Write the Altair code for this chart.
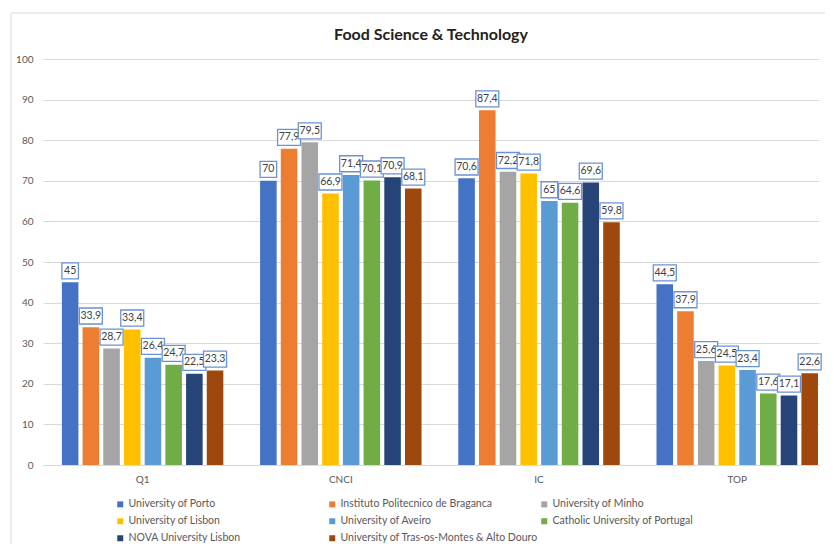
import altair as alt
import pandas as pd

groups = ["Q1", "CNCI", "IC", "TOP"]
universities = [
    "University of Porto",
    "Instituto Politecnico de Braganca",
    "University of Minho",
    "University of Lisbon",
    "University of Aveiro",
    "Catholic University of Portugal",
    "NOVA University Lisbon",
    "University of Tras-os-Montes & Alto Douro",
]
colors = ["#4472C4", "#ED7D31", "#A5A5A5", "#FFC000", "#5B9BD5", "#70AD47", "#264478", "#9E480E"]

porto = [45, 70, 70.6, 44.5]
braganca = [33.9, 77.9, 87.4, 37.9]
minho = [28.7, 79.5, 72.2, 25.6]
lisbon = [33.4, 66.9, 71.8, 24.5]
aveiro = [26.4, 71.4, 65, 23.4]
catholic = [24.7, 70.1, 64.6, 17.6]
nova = [22.5, 70.9, 69.6, 17.1]
utad = [23.3, 68.1, 59.8, 22.6]
series = [porto, braganca, minho, lisbon, aveiro, catholic, nova, utad]

rows = []
for u, vals in zip(universities, series):
    for g, v in zip(groups, vals):
        lab = f"{v:g}".replace(".", ",")
        rows.append({"group": g, "uni": u, "value": v, "label": lab,
                     "kind": "long" if "," in lab else "short"})
df = pd.DataFrame(rows)

FONT = "Lato"

x_enc = alt.X("group:N", sort=groups,
              scale=alt.Scale(domain=groups, paddingInner=0.175, paddingOuter=0.045, align=1),
              axis=alt.Axis(title=None, labelAngle=0, ticks=False, domain=True,
                            domainColor="#D9D9D9", labelFontSize=10, labelColor="#595959",
                            labelPadding=9, labelFont=FONT, grid=False))
xo_enc = alt.XOffset("uni:N", sort=universities,
                     scale=alt.Scale(domain=universities, paddingInner=0.2, paddingOuter=0.05))
y_scale = alt.Scale(domain=[0, 100], nice=False)
y_axis = alt.Axis(values=list(range(0, 101, 10)), title=None, ticks=False, domain=False,
                  gridColor="#D9D9D9", labelColor="#595959", labelFontSize=10,
                  labelPadding=10, labelFont=FONT)

base = alt.Chart(df)

bars = base.mark_bar().encode(
    x=x_enc,
    xOffset=xo_enc,
    y=alt.Y("value:Q", scale=y_scale, axis=y_axis),
    color=alt.Color("uni:N", sort=universities,
                    scale=alt.Scale(domain=universities, range=colors),
                    legend=alt.Legend(orient="none", legendX=72, legendY=440,
                                      direction="horizontal", columns=3, gridAlign="all",
                                      symbolType="square", symbolSize=36, symbolStrokeWidth=0,
                                      labelFontSize=10.5, labelFont=FONT, labelColor="#595959",
                                      rowPadding=6, columnPadding=0, title=None,
                                      labelLimit=0, labelOffset=3, padding=0)),
)

layers = [bars]
box_paths = ["M-0.69,-0.667H0.69V0.667H-0.69Z", "M-0.958,-0.667H0.958V0.667H-0.958Z"]
for u in universities:
    sub = base.transform_filter(alt.datum.uni == u).transform_calculate(
        label_y="datum.value + 2.8")
    box = sub.mark_point(filled=True, fill="white", stroke="#6A93D4", strokeWidth=1.3,
                         opacity=1, size=576).encode(
        x=x_enc,
        xOffset=xo_enc,
        y=alt.Y("label_y:Q", scale=y_scale, axis=y_axis),
        shape=alt.Shape("kind:N", scale=alt.Scale(domain=["short", "long"], range=box_paths),
                        legend=None),
    )
    txt = sub.mark_text(font=FONT, fontSize=10.5, color="#404040", baseline="middle").encode(
        x=x_enc,
        xOffset=xo_enc,
        y=alt.Y("label_y:Q", scale=y_scale, axis=y_axis),
        text="label:N",
    )
    layers += [box, txt]

frame_data = alt.Data(values=[{"a": 1}])
frame_left = alt.Chart(frame_data).mark_rule(color="#D9D9D9", strokeWidth=1).encode(
    x=alt.value(-32), y=alt.value(-46), y2=alt.value(485))
frame_top = alt.Chart(frame_data).mark_rule(color="#D9D9D9", strokeWidth=1).encode(
    x=alt.value(-32), x2=alt.value(782), y=alt.value(-46))
layers += [frame_left, frame_top]

chart = alt.layer(*layers).properties(
    width=776, height=406,
    title=alt.TitleParams("Food Science & Technology", font=FONT, fontSize=16,
                          fontWeight="bold", color="#222222", anchor="middle",
                          frame="group", offset=-43, baseline="alphabetic"),
    autosize=alt.AutoSizeParams(type="none"),
    padding={"left": 35, "top": 51, "right": 6, "bottom": 79},
).configure_view(stroke=None)

chart.save("out.html", embed_options={"renderer": "svg", "actions": False})
